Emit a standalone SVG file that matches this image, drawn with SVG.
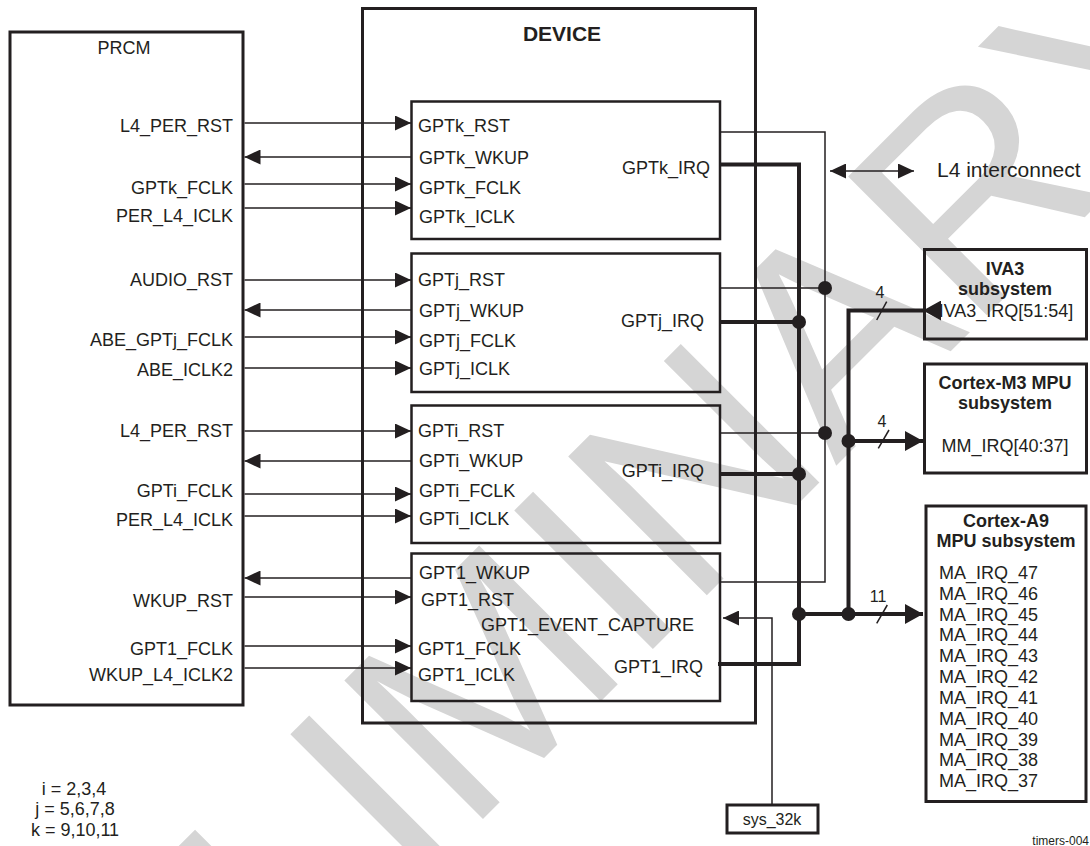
<svg xmlns="http://www.w3.org/2000/svg" width="1090" height="846" viewBox="0 0 1090 846">
<defs>
<style>
text{font-family:"Liberation Sans",Arial,Helvetica,sans-serif;font-size:18px;fill:#231f20}
.b{font-weight:bold}
.e{text-anchor:end}
.m{text-anchor:middle}
.box{fill:none;stroke:#231f20;stroke-width:3}
.gbox{fill:none;stroke:#231f20;stroke-width:2.5}
.thin{fill:none;stroke:#231f20;stroke-width:1.5}
.thick{fill:none;stroke:#231f20;stroke-width:4}
.dot{fill:#231f20}
.wm{font-size:285px;fill:#d5d5d5}
.bus{font-size:16px}
</style>
<marker id="a" markerUnits="userSpaceOnUse" markerWidth="16" markerHeight="15" refX="16" refY="7.5" orient="auto-start-reverse"><path d="M0,0 L16,7.5 L0,15 z" fill="#231f20"/></marker>
<marker id="at" markerUnits="userSpaceOnUse" markerWidth="18" markerHeight="20" refX="18" refY="10" orient="auto"><path d="M0,0 L18,10 L0,20 z" fill="#231f20"/></marker>
</defs>
<rect width="1090" height="846" fill="#ffffff"/>
<g id="watermark">
<text class="wm" transform="translate(-116,1418) rotate(-45)">PRELIMINARY</text>
</g>
<g id="prcm">
<rect class="box" x="10" y="32" width="233" height="673"/>
<text x="124" y="54" class="m">PRCM</text>
<text x="233" y="132" class="e">L4_PER_RST</text>
<text x="233" y="194" class="e">GPTk_FCLK</text>
<text x="233" y="222" class="e">PER_L4_ICLK</text>
<text x="233" y="286" class="e">AUDIO_RST</text>
<text x="233" y="346" class="e">ABE_GPTj_FCLK</text>
<text x="233" y="376" class="e">ABE_ICLK2</text>
<text x="233" y="437" class="e">L4_PER_RST</text>
<text x="233" y="497" class="e">GPTi_FCLK</text>
<text x="233" y="526" class="e">PER_L4_ICLK</text>
<text x="233" y="607" class="e">WKUP_RST</text>
<text x="233" y="655" class="e">GPT1_FCLK</text>
<text x="233" y="681" class="e">WKUP_L4_ICLK2</text>
</g>
<g id="device">
<rect class="box" x="362.5" y="8.5" width="393" height="714.5"/>
<text x="562" y="41" class="m b" style="font-size:21px">DEVICE</text>
</g>
<g id="gptk">
<rect class="gbox" x="411.5" y="101.5" width="308.5" height="137.5"/>
<text x="418" y="132">GPTk_RST</text>
<text x="419" y="164">GPTk_WKUP</text>
<text x="419" y="194">GPTk_FCLK</text>
<text x="419" y="223">GPTk_ICLK</text>
<text x="710" y="174" class="e">GPTk_IRQ</text>
</g>
<g id="gptj">
<rect class="gbox" x="411.5" y="253.5" width="308.5" height="138.5"/>
<text x="418" y="286">GPTj_RST</text>
<text x="419" y="317">GPTj_WKUP</text>
<text x="419" y="347">GPTj_FCLK</text>
<text x="419" y="375">GPTj_ICLK</text>
<text x="704" y="327" class="e">GPTj_IRQ</text>
</g>
<g id="gpti">
<rect class="gbox" x="411.5" y="405.5" width="308.5" height="137.5"/>
<text x="418" y="437">GPTi_RST</text>
<text x="419" y="467">GPTi_WKUP</text>
<text x="419" y="497">GPTi_FCLK</text>
<text x="419" y="525">GPTi_ICLK</text>
<text x="704" y="477" class="e">GPTi_IRQ</text>
</g>
<g id="gpt1">
<rect class="gbox" x="411.5" y="553.5" width="308.5" height="147.5"/>
<text x="419" y="579">GPT1_WKUP</text>
<text x="421" y="606">GPT1_RST</text>
<text x="481" y="631">GPT1_EVENT_CAPTURE</text>
<text x="418" y="655">GPT1_FCLK</text>
<text x="418" y="681">GPT1_ICLK</text>
<text x="703" y="673" class="e">GPT1_IRQ</text>
</g>
<g id="iva3">
<rect class="box" x="924.5" y="249.5" width="162" height="89.5"/>
<text x="1005" y="275" class="m b">IVA3</text>
<text x="1005" y="295" class="m b">subsystem</text>
<text x="1006" y="317" class="m">IVA3_IRQ[51:54]</text>
</g>
<g id="cortexm3">
<rect class="box" x="924.5" y="364" width="162" height="109"/>
<text x="1005" y="389" class="m b">Cortex-M3 MPU</text>
<text x="1005" y="409" class="m b">subsystem</text>
<text x="1005" y="452" class="m">MM_IRQ[40:37]</text>
</g>
<g id="cortexa9">
<rect class="box" x="926" y="506" width="160" height="295.5"/>
<text x="1006" y="527" class="m b">Cortex-A9</text>
<text x="1006" y="547" class="m b">MPU subsystem</text>
<text x="939" y="579">MA_IRQ_47</text>
<text x="939" y="600">MA_IRQ_46</text>
<text x="939" y="621">MA_IRQ_45</text>
<text x="939" y="641">MA_IRQ_44</text>
<text x="939" y="662">MA_IRQ_43</text>
<text x="939" y="683">MA_IRQ_42</text>
<text x="939" y="704">MA_IRQ_41</text>
<text x="939" y="725">MA_IRQ_40</text>
<text x="939" y="746">MA_IRQ_39</text>
<text x="939" y="766">MA_IRQ_38</text>
<text x="939" y="787">MA_IRQ_37</text>
</g>
<g id="sys32k">
<rect class="box" x="727" y="805" width="91" height="28"/>
<text x="772" y="825" class="m" style="font-size:16px">sys_32k</text>
</g>
<g id="l4">
<text x="937" y="177" style="font-size:21px">L4 interconnect</text>
</g>
<g id="legend">
<text x="74" y="795" class="m">i = 2,3,4</text>
<text x="75" y="815" class="m">j = 5,6,7,8</text>
<text x="75" y="836" class="m">k = 9,10,11</text>
<text x="1089" y="845" class="e" style="font-size:12px">timers-004</text>
</g>
<g id="connectors">
<line class="thin" x1="244.5" y1="123" x2="411" y2="123" marker-end="url(#a)"/>
<line class="thin" x1="411" y1="157" x2="244.5" y2="157" marker-end="url(#a)"/>
<line class="thin" x1="244.5" y1="184" x2="411" y2="184" marker-end="url(#a)"/>
<line class="thin" x1="244.5" y1="208" x2="411" y2="208" marker-end="url(#a)"/>
<line class="thin" x1="244.5" y1="280" x2="411" y2="280" marker-end="url(#a)"/>
<line class="thin" x1="411" y1="310" x2="244.5" y2="310" marker-end="url(#a)"/>
<line class="thin" x1="244.5" y1="337" x2="411" y2="337" marker-end="url(#a)"/>
<line class="thin" x1="244.5" y1="368" x2="411" y2="368" marker-end="url(#a)"/>
<line class="thin" x1="244.5" y1="431" x2="411" y2="431" marker-end="url(#a)"/>
<line class="thin" x1="411" y1="461" x2="244.5" y2="461" marker-end="url(#a)"/>
<line class="thin" x1="244.5" y1="494" x2="411" y2="494" marker-end="url(#a)"/>
<line class="thin" x1="244.5" y1="516" x2="411" y2="516" marker-end="url(#a)"/>
<line class="thin" x1="411" y1="578" x2="244.5" y2="578" marker-end="url(#a)"/>
<line class="thin" x1="244.5" y1="597" x2="411" y2="597" marker-end="url(#a)"/>
<line class="thin" x1="244.5" y1="646" x2="411" y2="646" marker-end="url(#a)"/>
<line class="thin" x1="244.5" y1="668" x2="411" y2="668" marker-end="url(#a)"/>
<polyline class="thin" points="720,132 825,132 825,582 720,582"/>
<line class="thin" x1="720" y1="288" x2="825" y2="288"/>
<line class="thin" x1="720" y1="433" x2="825" y2="433"/>
<circle class="dot" cx="825" cy="288" r="7"/>
<circle class="dot" cx="825" cy="433" r="7"/>
<polyline class="thick" points="720,164.5 799,164.5 799,664 718,664"/>
<line class="thick" x1="720" y1="322" x2="799" y2="322"/>
<line class="thick" x1="720" y1="474" x2="799" y2="474"/>
<circle class="dot" cx="799" cy="322" r="7"/>
<circle class="dot" cx="799" cy="474" r="7"/>
<circle class="dot" cx="799" cy="614" r="7"/>
<line class="thick" x1="799" y1="614" x2="923" y2="614" marker-end="url(#at)"/>
<polyline class="thick" points="923,310.5 848.5,310.5 848.5,614" marker-start="url(#at)"/>
<line class="thick" x1="848.5" y1="441" x2="923" y2="441" marker-end="url(#at)"/>
<circle class="dot" cx="848.5" cy="441" r="7"/>
<circle class="dot" cx="848.5" cy="614" r="7"/>
<line class="thin" x1="876.7" y1="320" x2="886.7" y2="301.7"/>
<line class="thin" x1="878.3" y1="448.3" x2="889" y2="430"/>
<line class="thin" x1="876.7" y1="623.3" x2="887.3" y2="605"/>
<text x="880" y="298" class="m bus">4</text>
<text x="882" y="427" class="m bus">4</text>
<text x="878" y="602" class="m bus">11</text>
<polyline class="thin" points="772,805 772,618 723,618" marker-end="url(#a)"/>
<line class="thin" x1="830" y1="171" x2="914" y2="171" marker-start="url(#a)" marker-end="url(#a)"/>
</g>
</svg>
